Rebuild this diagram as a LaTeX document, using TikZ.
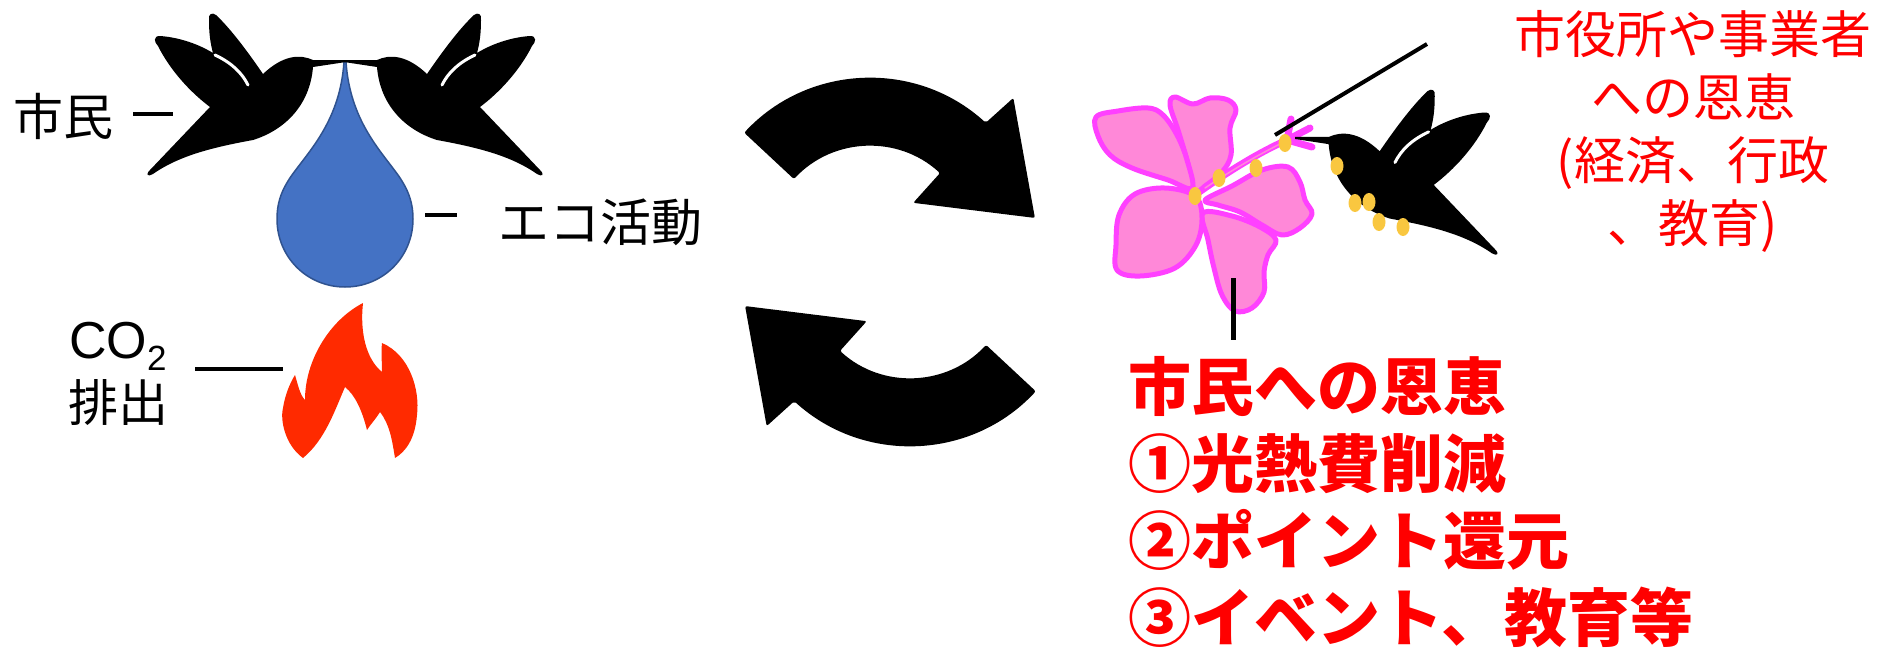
\documentclass[tikz,border=0pt]{standalone}
\usepackage{fontspec}
\setmainfont{Liberation Sans}
\newfontfamily\jp{Noto Sans CJK JP}
\definecolor{petalfill}{RGB}{255,136,216}
\definecolor{petaledge}{RGB}{255,64,255}
\definecolor{pollen}{RGB}{249,199,64}
\definecolor{dropfill}{RGB}{68,114,196}
\definecolor{dropedge}{RGB}{47,82,143}
\definecolor{flame}{RGB}{255,42,0}
\definecolor{benefitred}{RGB}{255,0,0}
\tikzset{
  lbl/.style={inner sep=0pt, font=\jp\fontsize{50}{60}\selectfont},
  leader/.style={line width=4pt},
  petal/.style={draw=petaledge, fill=petalfill, line width=5pt, line join=round},
  % hummingbird silhouette, origin at the beak tip, facing right
  bird/.pic={
    \fill[black] (0,1) -- (-33,1) .. controls (-46,7) and (-63,6) .. (-83,-13)
      .. controls (-96,6) and (-114,31) .. (-130,46)
      .. controls (-134,49) and (-138,47) .. (-137,41)
      .. controls (-137,29) and (-136,19) .. (-133,8)
      .. controls (-151,19) and (-171,24) .. (-186,25)
      .. controls (-193,25) and (-192,19) .. (-188,15)
      .. controls (-176,-9) and (-156,-31) .. (-136,-46)
      -- (-196,-109) .. controls (-201,-114) and (-198,-116) .. (-193,-113)
      .. controls (-166,-94) and (-131,-86) .. (-93,-79)
      .. controls (-61,-69) and (-36,-44) .. (-33,-6) -- (0,-1) -- cycle;
    \draw[white, line width=3pt, line cap=round]
      (-131,6) .. controls (-114,-2) and (-104,-12) .. (-98,-24);
  },
  % curved arrow of the cycle, origin at the centre of its arc
  cyclearrow/.pic={
    \fill[black, rounded corners=2pt] (137:172) arc[start angle=137, end angle=47.7, radius=172]
      -- (46.7:209) -- (11:168) -- (47.5:64) -- (47.7:104)
      arc[start angle=47.7, end angle=137, radius=104] -- cycle;
  }
}
\begin{document}
\begin{tikzpicture}[x=1pt, y=1pt]
\useasboundingbox (0,0) rectangle (1882,-648);

% ---- left: citizens, eco activity, CO2 emission ----
\draw[draw=dropedge, fill=dropfill, line width=1.5pt]
  (346,-62) .. controls (350,-120) and (380,-150) .. (398,-175)
  .. controls (410,-192) and (413,-205) .. (413,-219)
  .. controls (413,-257) and (383,-287) .. (345,-287)
  .. controls (307,-287) and (277,-257) .. (277,-219)
  .. controls (277,-205) and (280,-192) .. (292,-175)
  .. controls (310,-150) and (340,-120) .. (344,-62) -- cycle;

\pic at (346,-61) {bird};
\pic[xscale=-1] at (344,-61) {bird};

\fill[flame]
  (303,-458) .. controls (285,-445) and (280,-420) .. (283,-408)
  .. controls (285,-395) and (290,-383) .. (295,-375)
  .. controls (298,-385) and (300,-395) .. (305,-400)
  .. controls (305,-360) and (330,-320) .. (363,-303)
  .. controls (360,-330) and (365,-358) .. (382,-372)
  .. controls (382,-362) and (381,-352) .. (382,-343)
  .. controls (410,-355) and (420,-390) .. (417,-415)
  .. controls (415,-440) and (405,-452) .. (395,-458)
  .. controls (392,-440) and (390,-425) .. (380,-412)
  .. controls (375,-420) and (370,-425) .. (367,-430)
  .. controls (362,-410) and (355,-395) .. (345,-387)
  .. controls (335,-410) and (325,-440) .. (303,-458) -- cycle;

\node[lbl] (citizen) at (63,-116) {市民};
\coordinate (citizenA) at (133,-114);
\coordinate (citizenB) at (173,-114);
\draw[leader] (citizenA) -- (citizenB);

\node[lbl, font=\jp\fontsize{51}{60}\selectfont] (eco) at (600,-222) {エコ活動};
\coordinate (ecoA) at (425,-215);
\coordinate (ecoB) at (457,-215);
\draw[leader] (ecoA) -- (ecoB);

\node[lbl, font=\fontsize{52}{60}\selectfont, anchor=base west] (co2) at (69,-358)
  {CO\raisebox{-12pt}{\fontsize{35}{35}\selectfont 2}};
\node[lbl, anchor=base west] (emit) at (68,-421) {排出};
\coordinate (co2A) at (195,-369);
\coordinate (co2B) at (283,-369);
\draw[leader] (co2A) -- (co2B);

% ---- centre: cycle arrows ----
\pic at (870,-250) {cyclearrow};
\pic[rotate=180] at (910,-274) {cyclearrow};

% ---- right: flower and feeding hummingbird ----
\draw[petal] plot[smooth cycle, tension=0.6] coordinates {
  (1195,-192) (1187,-160) (1178,-130) (1170,-105) (1175,-97) (1193,-104)
  (1210,-98) (1228,-100) (1236,-110) (1230,-128) (1231,-155) (1222,-172) (1205,-186)};
\draw[petal] plot[smooth cycle, tension=0.6] coordinates {
  (1192,-188) (1187,-160) (1177,-135) (1163,-115) (1148,-108) (1118,-111)
  (1096,-117) (1098,-136) (1110,-155) (1132,-168) (1168,-180)};
\draw[petal] plot[smooth cycle, tension=0.6] coordinates {
  (1205,-200) (1232,-186) (1262,-170) (1288,-167) (1300,-182) (1305,-200)
  (1312,-214) (1300,-228) (1282,-235) (1262,-225) (1240,-212) (1218,-205)};
\draw[petal] plot[smooth cycle, tension=0.6] coordinates {
  (1203,-213) (1208,-240) (1214,-268) (1222,-295) (1235,-311) (1252,-308)
  (1264,-292) (1264,-272) (1268,-255) (1276,-240) (1260,-227) (1232,-216)};
\draw[petal] plot[smooth cycle, tension=0.6] coordinates {
  (1195,-196) (1165,-188) (1135,-194) (1119,-215) (1116,-245) (1117,-270)
  (1140,-276) (1175,-268) (1196,-245) (1202,-218)};

% stamen tube and stigma
\draw[petaledge, line width=7pt, line cap=round]
  (1195,-195) .. controls (1230,-170) and (1260,-152) .. (1287,-140);
\draw[petalfill, line width=1.5pt, line cap=round]
  (1205,-188) .. controls (1232,-170) and (1258,-155) .. (1280,-144);
\draw[petaledge, line width=7pt, line cap=round]
  (1287,-140) -- (1291,-119)
  (1287,-140) -- (1310,-128)
  (1287,-140) -- (1312,-147);

\pic[xscale=-1.02, yscale=1.02] at (1295,-138) {bird};

% pollen grains
\foreach \px/\py in {1195/196, 1219/178, 1256/168, 1285/143,
                     1337/166, 1355/203, 1369/202, 1379/222, 1403/227}
  \fill[pollen] (\px,-\py) ellipse[x radius=6.5, y radius=9];

\coordinate (govA) at (1275,-135);
\coordinate (govB) at (1427,-44);
\draw[line width=4pt] (govA) -- (govB);
\coordinate (citA) at (1233,-278);
\coordinate (citB) at (1233,-340);
\draw[line width=5pt] (citA) -- (citB);

\node[inner sep=0pt, align=center, text=benefitred, font=\jp\fontsize{51}{63}\selectfont]
  (gov) at (1693,-131) {市役所や事業者\\への恩恵\\(経済、行政\\、教育)};

\node[inner sep=0pt, align=left, anchor=west, text=benefitred,
      font=\jp\bfseries\fontsize{63}{77}\selectfont]
  (benefit) at (1128,-502) {市民への恩恵\\①光熱費削減\\②ポイント還元\\③イベント、教育等};
\end{tikzpicture}
\end{document}
